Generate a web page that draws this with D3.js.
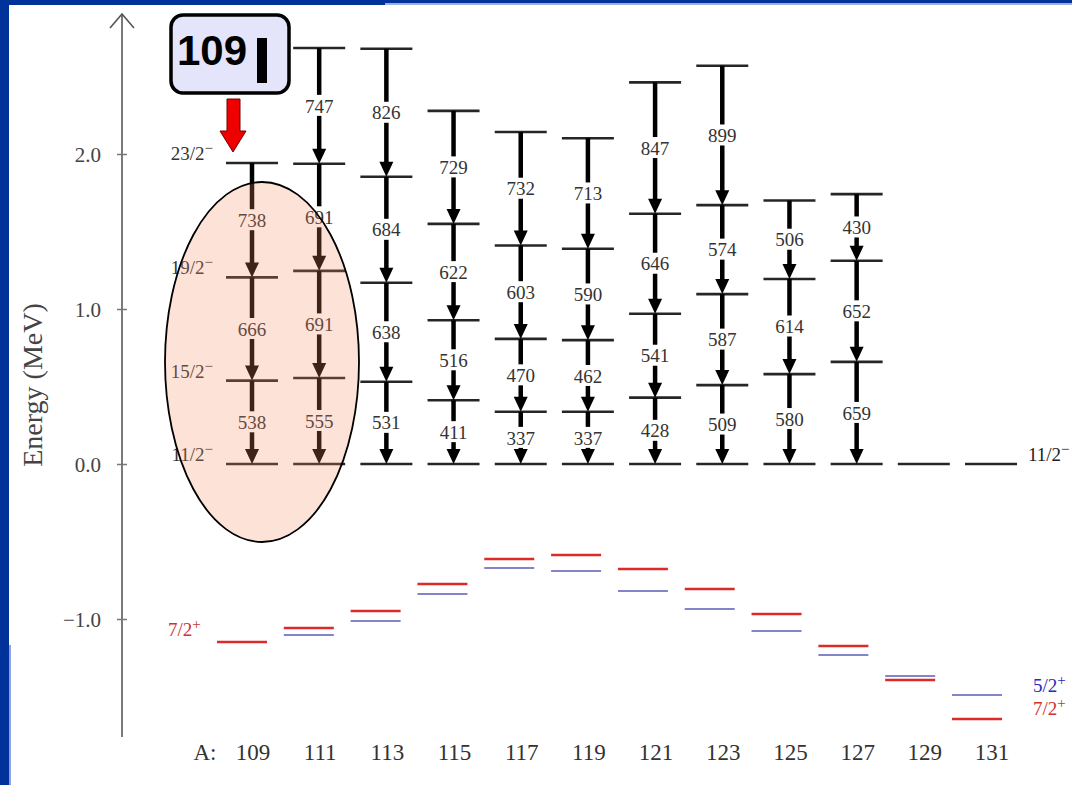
<!DOCTYPE html>
<html>
<head>
<meta charset="utf-8">
<script src="https://cdn.jsdelivr.net/npm/d3@7"></script>
<style>
  body { margin: 0; background: #fff; }
  svg { display: block; }
</style>
</head>
<body>
<svg id="chart" width="1072" height="785"></svg>
<script>
// mass numbers A
const isotopes = [109, 111, 113, 115, 117, 119, 121, 123, 125, 127, 129, 131];
// gamma energies (keV), bottom to top of each band
const gammas = [
  [538, 666, 738],
  [555, 691, 691, 747],
  [531, 638, 684, 826],
  [411, 516, 622, 729],
  [337, 470, 603, 732],
  [337, 462, 590, 713],
  [428, 541, 646, 847],
  [509, 587, 574, 899],
  [580, 614, 506],
  [659, 652, 430],
  [],
  []
];
// 7/2+ and 5/2+ levels (MeV) relative to 11/2-
const e72 = [-1.148, -1.058, -0.948, -0.774, -0.613, -0.587, -0.677, -0.806, -0.968, -1.174, -1.394, -1.645];
const e52 = [null, -1.103, -1.013, -0.839, -0.671, -0.690, -0.819, -0.935, -1.077, -1.232, -1.368, -1.490];
const spins = ["11/2", "15/2", "19/2", "23/2"];
const yTicks = [-1, 0, 1, 2];

var svg = d3.select("#chart");

// page frame (slide border)
svg.append("rect").attr("x", 0).attr("y", 0).attr("width", 385).attr("height", 5).attr("fill", "#003399");
svg.append("rect").attr("x", 385).attr("y", 0).attr("width", 687).attr("height", 3).attr("fill", "#003399");
svg.append("rect").attr("x", 385).attr("y", 3).attr("width", 687).attr("height", 2).attr("fill", "#9fb0dd");
svg.append("rect").attr("x", 0).attr("y", 0).attr("width", 9).attr("height", 785).attr("fill", "#003399");
svg.append("rect").attr("x", 9).attr("y", 645).attr("width", 2).attr("height", 140).attr("fill", "#8fa0dd");

const y = d3.scaleLinear().domain([0, 2]).range([464, 154]);
const x = d3.scaleLinear().domain([109, 131]).range([252, 991]);
const xLow = d3.scaleLinear().domain([109, 131]).range([242, 977]);
const halfW = 26;
const serif = "'Liberation Serif', 'DejaVu Serif', serif";

// y axis line with arrow
svg.append("line").attr("x1", 122).attr("x2", 122).attr("y1", 15).attr("y2", 737)
  .attr("stroke", "#7a7a7a").attr("stroke-width", 2);
svg.append("path").attr("d", "M110,28 L122,14 L134,28").attr("fill", "none")
  .attr("stroke", "#555").attr("stroke-width", 1.6);

var yAxis = svg.append("g").attr("transform", "translate(122,0)")
  .call(d3.axisLeft(y).tickValues(yTicks).tickFormat(d3.format(".1f")).tickSize(5));
yAxis.select(".domain").remove();
yAxis.selectAll(".tick line").attr("x1", -5).attr("x2", 5).attr("stroke", "#777").attr("stroke-width", 1.5);
yAxis.selectAll(".tick text").attr("x", -21).attr("dy", "0.35em")
  .style("font-family", serif).style("font-size", "21px").attr("fill", "#444");

svg.append("text").attr("transform", "translate(42,385) rotate(-90)")
  .attr("text-anchor", "middle").style("font-family", serif).style("font-size", "28px")
  .attr("fill", "#444").text("Energy (MeV)");

// x labels
svg.append("text").attr("x", 205).attr("y", 760).attr("text-anchor", "middle")
  .style("font-family", serif).style("font-size", "23px").attr("fill", "#333").text("A:");
svg.selectAll(".alab").data(isotopes).enter().append("text")
  .attr("x", d => x(d) + 1).attr("y", 760).attr("text-anchor", "middle")
  .style("font-family", serif).style("font-size", "23px").attr("fill", "#333").text(d => d);

// level energies built from the gamma cascades
var levels = isotopes.map((a, i) => {
  var e = [0];
  gammas[i].forEach(g => e.push(e[e.length - 1] + g / 1000));
  return e;
});

var band = svg.selectAll(".band").data(isotopes).enter().append("g");

band.each(function(a, i) {
  var g = d3.select(this);
  var cx = x(a);
  var lv = levels[i];
  // level lines
  g.selectAll("line.lv").data(lv).enter().append("line")
    .attr("x1", cx - halfW).attr("x2", cx + halfW)
    .attr("y1", d => y(d)).attr("y2", d => y(d))
    .attr("stroke", "#262626").attr("stroke-width", 2.6);
  // transitions
  gammas[i].forEach((ga, k) => {
    var top = y(lv[k + 1]), bot = y(lv[k]);
    g.append("line").attr("x1", cx).attr("x2", cx).attr("y1", top).attr("y2", bot - 12)
      .attr("stroke", "#000").attr("stroke-width", 4.5);
    g.append("path").attr("d", `M${cx - 7},${bot - 15} L${cx + 7},${bot - 15} L${cx},${bot} Z`)
      .attr("fill", "#000");
    var my = (top + bot) / 2;
    g.append("rect").attr("x", cx - 19).attr("y", my - 11).attr("width", 38).attr("height", 21)
      .attr("fill", "#fff");
    g.append("text").attr("x", cx).attr("y", my).attr("dy", "0.35em").attr("text-anchor", "middle")
      .style("font-family", serif).style("font-size", "19px").attr("fill", "#333").text(ga);
  });
});

// lower levels
svg.selectAll(".l52").data(isotopes.filter((a, i) => e52[i] !== null)).enter().append("line")
  .attr("x1", d => xLow(d) - 25).attr("x2", d => xLow(d) + 25)
  .attr("y1", d => y(e52[isotopes.indexOf(d)])).attr("y2", d => y(e52[isotopes.indexOf(d)]))
  .attr("stroke", "#8484c8").attr("stroke-width", 2);
svg.selectAll(".l72").data(isotopes).enter().append("line")
  .attr("x1", d => xLow(d) - 25).attr("x2", d => xLow(d) + 25)
  .attr("y1", (d, i) => y(e72[i])).attr("y2", (d, i) => y(e72[i]))
  .attr("stroke", "#dc2a2a").attr("stroke-width", 2.6);

// spin label with raised parity sign
function spinLabel(xp, yp, base, sign, color, anchor) {
  var t = svg.append("text").attr("x", xp).attr("y", yp).attr("text-anchor", anchor || "start")
    .style("font-family", serif).style("font-size", "19px").attr("fill", color);
  t.append("tspan").text(base);
  t.append("tspan").attr("dy", -7).style("font-size", "15px").text(sign);
  return t;
}
levels[0].forEach((e, i) => spinLabel(213, y(e) - 3, spins[i], "\u2212", "#333", "end"));
spinLabel(1028, y(0) - 3, spins[0], "\u2212", "#222");
spinLabel(168, y(e72[0]) - 6, "7/2", "+", "#d03030");
spinLabel(1033, y(e52[11]) - 3, "5/2", "+", "#2a2ab8");
spinLabel(1033, y(e52[11]) + 20, "7/2", "+", "#d03030");

// highlight ellipse over 109/111
svg.append("ellipse").attr("cx", 262).attr("cy", 362).attr("rx", 97).attr("ry", 180)
  .attr("fill", "rgb(247,138,101)").attr("fill-opacity", 0.25)
  .attr("stroke", "#000").attr("stroke-width", 1.8);

// callout box
svg.append("rect").attr("x", 171).attr("y", 15).attr("width", 118).attr("height", 78).attr("rx", 12)
  .attr("fill", "#e4e4fb").attr("stroke", "#000").attr("stroke-width", 3.5);
svg.append("text").attr("x", 177).attr("y", 65)
  .style("font-family", "'Liberation Sans', Arial, sans-serif").style("font-weight", "bold")
  .style("font-size", "42px").attr("fill", "#000").text("109");
svg.append("rect").attr("x", 257).attr("y", 38).attr("width", 10).attr("height", 45).attr("fill", "#000");
svg.append("path").attr("d", "M227,99 L240,99 L240,131 L246,131 L233,152 L220,131 L227,131 Z")
  .attr("fill", "#ee0000").attr("stroke", "#700").attr("stroke-width", 1);
</script>
</body>
</html>
